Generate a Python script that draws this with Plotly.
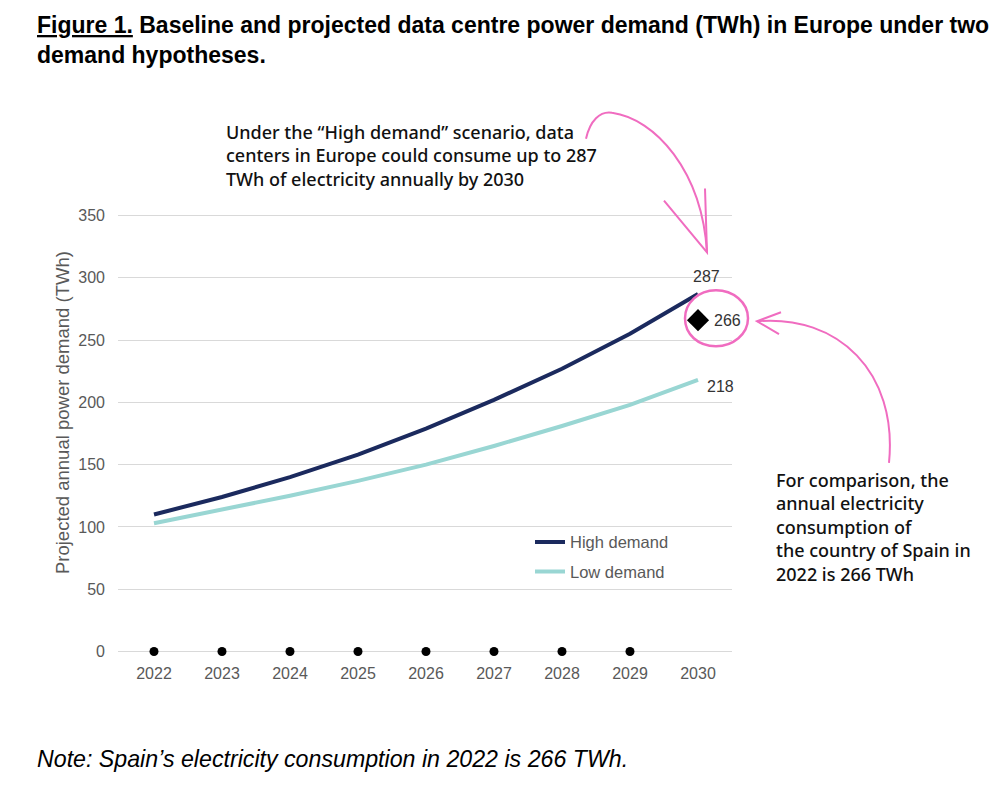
import plotly.graph_objects as go

years = [2022, 2023, 2024, 2025, 2026, 2027, 2028, 2029, 2030]
high_demand = [110, 124, 140, 158, 179, 202, 227, 255, 287]
low_demand = [103, 114, 125, 137, 150, 165, 181, 198, 218]
dot_years = [2022, 2023, 2024, 2025, 2026, 2027, 2028, 2029]
dot_values = [0, 0, 0, 0, 0, 0, 0, 0]
spain_year = [2030]
spain_value = [266]
y_ticks = [0, 50, 100, 150, 200, 250, 300, 350]

OFF = 8                   # page body margin
W, H = 1000 - OFF, 792 - OFF
L, R = 118, 732           # plot area in page px
T, B = 212.5, 654.5
XR = [2021.4706, 2030.5]
YR = [-2, 352]

def fx(x):
    return (x - L) / (R - L)

def fy(y):
    return (B - y) / (B - T)

def pp(x, y):
    return f"{fx(x):.5f},{fy(y):.5f}"

NAVY = "#1b2a5e"
TEAL = "#99d6d3"
PINK = "#f06cc0"
GRAY = "#595959"
AX_FONT = "Liberation Sans, Arial, sans-serif"
NOTE_FONT = "Noto Sans, Open Sans, sans-serif"

fig = go.Figure()
fig.add_trace(go.Scatter(x=years, y=high_demand, mode="lines", name="High demand",
                         line=dict(color=NAVY, width=4), legendgroup="a"))
fig.add_trace(go.Scatter(x=years, y=low_demand, mode="lines", name="Low demand",
                         line=dict(color=TEAL, width=4), legendgroup="b"))
fig.add_trace(go.Scatter(x=dot_years, y=dot_values, mode="markers", showlegend=False,
                         marker=dict(color="black", size=9), cliponaxis=False))
fig.add_trace(go.Scatter(x=spain_year, y=spain_value, mode="markers", showlegend=False,
                         marker=dict(color="black", size=17, symbol="diamond"), cliponaxis=False))

ann = []
lab_font = dict(family=AX_FONT, size=16, color="#333")
ann.append(dict(x=years[-1], y=high_demand[-1], text=str(high_demand[-1]), showarrow=False,
                xshift=8, yshift=17, font=lab_font))
ann.append(dict(x=years[-1], y=low_demand[-1], text=str(low_demand[-1]), showarrow=False,
                xshift=22, yshift=-7, font=lab_font))
ann.append(dict(x=spain_year[0], y=spain_value[0], text=str(spain_value[0]), showarrow=False,
                xshift=29, yshift=0, font=lab_font))

# y-axis title
ann.append(dict(xref="paper", yref="paper", x=fx(62), y=fy(413),
                xanchor="center", yanchor="middle", textangle=-90, showarrow=False,
                text="Projected annual power demand (TWh)",
                font=dict(family=AX_FONT, size=18.5, color=GRAY)))
# title
ann.append(dict(xref="paper", yref="paper", x=fx(35), y=fy(9),
                xanchor="left", yanchor="top", align="left", showarrow=False,
                text="<b><u>Figure 1.</u> Baseline and projected data centre power demand (TWh) in Europe under two<br>demand hypotheses.</b>",
                font=dict(family=AX_FONT, size=23, color="black")))
# note
ann.append(dict(xref="paper", yref="paper", x=fx(35), y=fy(760),
                xanchor="left", yanchor="middle", align="left", showarrow=False,
                text="<i>Note: Spain’s electricity consumption in 2022 is 266 TWh.</i>",
                font=dict(family=AX_FONT, size=23.2, color="black")))
# callouts
note_font = dict(family=NOTE_FONT, size=18, color="#111", weight=500)
ann.append(dict(xref="paper", yref="paper", x=fx(224), y=fy(117),
                xanchor="left", yanchor="top", align="left", showarrow=False,
                text="Under the “High demand” scenario, data<br>centers in Europe could consume up to 287<br>TWh of electricity annually by 2030",
                font=note_font))
ann.append(dict(xref="paper", yref="paper", x=fx(774), y=fy(466),
                xanchor="left", yanchor="top", align="left", showarrow=False,
                text="For comparison, the<br>annual electricity<br>consumption of<br>the country of Spain in<br>2022 is 266 TWh",
                font=note_font))

shapes = []
pink = dict(color=PINK, width=2)
shapes.append(dict(type="path", xref="paper", yref="paper",
                   path=f"M{pp(586,138)} C{pp(590,120)} {pp(600,110)} {pp(612,112)} C{pp(655,118)} {pp(702,170)} {pp(707,252)}",
                   line=pink))
shapes.append(dict(type="path", xref="paper", yref="paper",
                   path=f"M{pp(664,200)} L{pp(707,252)} L{pp(705,188)}",
                   line=pink))
shapes.append(dict(type="path", xref="paper", yref="paper",
                   path=f"M{pp(757,321)} C{pp(838,314)} {pp(898,372)} {pp(889,463)}",
                   line=pink))
shapes.append(dict(type="path", xref="paper", yref="paper",
                   path=f"M{pp(781,312)} L{pp(757,321)} L{pp(779,334)}",
                   line=pink))
shapes.append(dict(type="path", xref="paper", yref="paper",
                   path=(f"M{pp(748,318)} C{pp(748,302)} {pp(733,290)} {pp(716,290)} "
                         f"C{pp(698,290)} {pp(685,303)} {pp(685,318)} "
                         f"C{pp(685,334)} {pp(698,346)} {pp(716,346)} "
                         f"C{pp(733,346)} {pp(748,334)} {pp(748,318)} Z"),
                   line=dict(color=PINK, width=2.5)))

fig.update_layout(
    width=W, height=H,
    margin=dict(l=L - OFF, r=W - (R - OFF), t=T - OFF, b=H - (B - OFF)),
    plot_bgcolor="white", paper_bgcolor="white",
    annotations=ann, shapes=shapes,
    showlegend=True,
    legend=dict(x=fx(530), y=fy(525), xanchor="left", yanchor="top",
                bgcolor="rgba(0,0,0,0)", font=dict(family=AX_FONT, size=16.5, color=GRAY),
                traceorder="grouped", tracegroupgap=5, itemwidth=30),
    xaxis=dict(range=XR, tickmode="array", tickvals=years, ticktext=[str(y) for y in years],
               showgrid=False, zeroline=False, showline=False, ticks="",
               ticklabelstandoff=8,
               tickfont=dict(family=AX_FONT, size=16, color=GRAY)),
    yaxis=dict(range=YR, tickmode="array", tickvals=y_ticks, showgrid=True,
               gridcolor="#d9d9d9", gridwidth=1, zeroline=False, showline=False, ticks="",
               ticklabelstandoff=12,
               tickfont=dict(family=AX_FONT, size=16, color=GRAY)),
)

fig.write_html("out.html")
